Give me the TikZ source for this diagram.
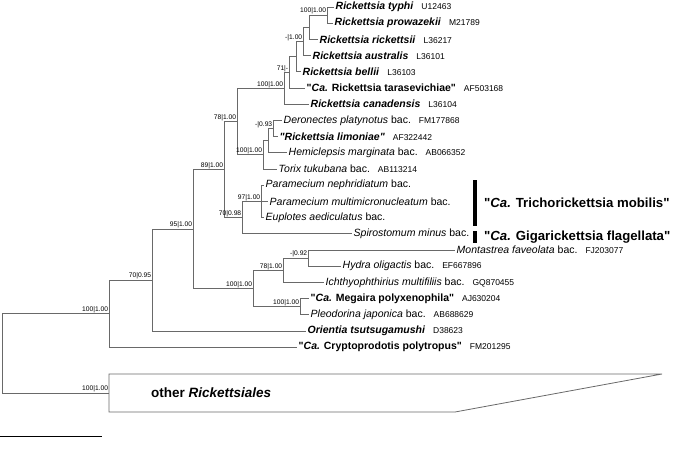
\documentclass[tikz,border=0pt]{standalone}
\usepackage{fontspec}
\setmainfont{Liberation Sans}
\usetikzlibrary{positioning}
\definecolor{treegray}{RGB}{105,105,105}
\newcommand{\accno}[1]{\hspace{8pt}{\fontsize{8.5}{10}\selectfont #1}}
\newcommand{\bi}[1]{\textbf{\textit{#1}}}
\newcommand{\qq}{\textquotedbl}

\begin{document}
\begin{tikzpicture}[x=1pt,y=-1pt,
  branch/.style={draw=treegray,line width=0.8pt},
  leaf/.style={anchor=west,inner sep=1.5pt,font=\fontsize{10.5}{12}\selectfont},
  supp/.style={anchor=south east,inner sep=0.6pt,font=\fontsize{6.7}{7}\selectfont},
  cladebar/.style={line width=4pt},
  cladelbl/.style={anchor=west,inner sep=0pt,font=\fontsize{13.2}{15}\selectfont\bfseries}]
\useasboundingbox (0,0) rectangle (680,456);

% leaves (end of branch)
\coordinate (typhi) at (334,7);
\coordinate (prow) at (333,23.2);
\coordinate (rick) at (318,39.4);
\coordinate (austr) at (311,55.6);
\coordinate (bellii) at (301,71.8);
\coordinate (taras) at (305,88);
\coordinate (canad) at (309,104.2);
\coordinate (deron) at (282,120.4);
\coordinate (limon) at (278,136.6);
\coordinate (hemic) at (287,152.8);
\coordinate (torix) at (277,169);
\coordinate (neph) at (264,185.2);
\coordinate (multi) at (268,201.4);
\coordinate (eupl) at (264,217.6);
\coordinate (spiro) at (352,233.8);
\coordinate (monta) at (455,250);
\coordinate (hydra) at (341,266.2);
\coordinate (ichth) at (324,282.4);
\coordinate (megai) at (309,298.6);
\coordinate (pleod) at (309,314.8);
\coordinate (orien) at (306,331);
\coordinate (crypt) at (297,347.2);
\coordinate (other) at (109,393);

% internal nodes
\coordinate (M) at (327,15.1);
\coordinate (P) at (309,27.25);
\coordinate (Q) at (303,41.4);
\coordinate (K2) at (296,56.6);
\coordinate (K) at (289,72.3);
\coordinate (I) at (284,88.25);
\coordinate (J3) at (273,128.5);
\coordinate (J2) at (268,140.65);
\coordinate (J) at (263,154.8);
\coordinate (F) at (237,121.5);
\coordinate (H) at (261,201.4);
\coordinate (G) at (242,217.6);
\coordinate (D) at (224,169.55);
\coordinate (E3) at (308,258.1);
\coordinate (E1) at (283,270.25);
\coordinate (E2) at (300,306.7);
\coordinate (E) at (253,288.5);
\coordinate (C) at (193,229);
\coordinate (B) at (152,280);
\coordinate (A) at (109,313.6);
\coordinate (R) at (2,353.3);

% branches
\foreach \p/\c in {M/typhi,M/prow,P/M,P/rick,Q/P,Q/austr,K2/Q,K2/bellii,
  K/K2,K/taras,I/K,I/canad,J3/deron,J3/limon,J2/J3,J2/hemic,J/J2,J/torix,
  F/I,F/J,H/neph,H/multi,H/eupl,G/H,G/spiro,D/F,D/G,E3/monta,E3/hydra,
  E1/E3,E1/ichth,E2/megai,E2/pleod,E/E1,E/E2,C/D,C/E,B/C,B/orien,
  A/B,A/crypt,R/A,R/other}
  \draw[branch] (\p) |- (\c);

% collapsed clade
\draw[branch] (109,374) -- (662,374) -- (455,412) -- (109,412) -- cycle;
\node[anchor=west,inner sep=0pt,font=\fontsize{13.5}{15}\selectfont\bfseries] (otherlbl) at (151,393) {other \textit{Rickettsiales}};

% taxon labels
\node[leaf] (lTyphi) at (typhi) {\bi{Rickettsia typhi}\accno{U12463}};
\node[leaf] (lProw) at (prow) {\bi{Rickettsia prowazekii}\accno{M21789}};
\node[leaf] (lRick) at (rick) {\bi{Rickettsia rickettsii}\accno{L36217}};
\node[leaf] (lAustr) at (austr) {\bi{Rickettsia australis}\accno{L36101}};
\node[leaf] (lBellii) at (bellii) {\bi{Rickettsia bellii}\accno{L36103}};
\node[leaf] (lTaras) at (taras) {\textbf{\qq\textit{Ca.} Rickettsia tarasevichiae\qq}\accno{AF503168}};
\node[leaf] (lCanad) at (canad) {\bi{Rickettsia canadensis}\accno{L36104}};
\node[leaf] (lDeron) at (deron) {\textit{Deronectes platynotus} bac.\accno{FM177868}};
\node[leaf] (lLimon) at (limon) {\bi{\qq Rickettsia limoniae\qq}\accno{AF322442}};
\node[leaf] (lHemic) at (hemic) {\textit{Hemiclepsis marginata} bac.\accno{AB066352}};
\node[leaf] (lTorix) at (torix) {\textit{Torix tukubana} bac.\accno{AB113214}};
\node[leaf] (lNeph) at (neph) {\textit{Paramecium nephridiatum} bac.};
\node[leaf] (lMulti) at (multi) {\textit{Paramecium multimicronucleatum} bac.};
\node[leaf] (lEupl) at (eupl) {\textit{Euplotes aediculatus} bac.};
\node[leaf] (lSpiro) at (spiro) {\textit{Spirostomum minus} bac.};
\node[leaf] (lMonta) at (monta) {\textit{Montastrea faveolata} bac.\accno{FJ203077}};
\node[leaf] (lHydra) at (hydra) {\textit{Hydra oligactis} bac.\accno{EF667896}};
\node[leaf] (lIchth) at (ichth) {\textit{Ichthyophthirius multifiliis} bac.\accno{GQ870455}};
\node[leaf] (lMegai) at (megai) {\textbf{\qq\textit{Ca.} Megaira polyxenophila\qq}\accno{AJ630204}};
\node[leaf] (lPleod) at (pleod) {\textit{Pleodorina japonica} bac.\accno{AB688629}};
\node[leaf] (lOrien) at (orien) {\bi{Orientia tsutsugamushi}\accno{D38623}};
\node[leaf] (lCrypt) at (crypt) {\textbf{\qq\textit{Ca.} Cryptoprodotis polytropus\qq}\accno{FM201295}};

% support values
\node[supp] (sM) at (M) {100|1.00};
\node[supp] (sQ) at (Q) {-|1.00};
\node[supp] (sK) at (K) {71|-};
\node[supp] (sI) at (I) {100|1.00};
\node[supp] (sJ3) at (J3) {-|0.93};
\node[supp] (sJ) at (J) {100|1.00};
\node[supp] (sF) at (F) {78|1.00};
\node[supp] (sD) at (D) {89|1.00};
\node[supp] (sG) at (G) {70|0.98};
\node[supp] (sH) at (H) {97|1.00};
\node[supp] (sC) at (C) {95|1.00};
\node[supp] (sE3) at (E3) {-|0.92};
\node[supp] (sE1) at (E1) {78|1.00};
\node[supp] (sE2) at (E2) {100|1.00};
\node[supp] (sE) at (E) {100|1.00};
\node[supp] (sB) at (B) {70|0.95};
\node[supp] (sA) at (A) {100|1.00};
\node[supp] (sOther) at (other) {100|1.00};

% clade bars
\draw[cladebar] (475,180) -- (475,226);
\node[cladelbl] (lTricho) at (484,203) {\qq\textit{Ca.} Trichorickettsia mobilis\qq};
\draw[cladebar] (475,231) -- (475,243);
\node[cladelbl] (lGiga) at (484,237) {\qq\textit{Ca.} Gigarickettsia flagellata\qq};

% scale bar
\draw[line width=1pt] (0,436) -- (102,436);
\end{tikzpicture}
\end{document}
